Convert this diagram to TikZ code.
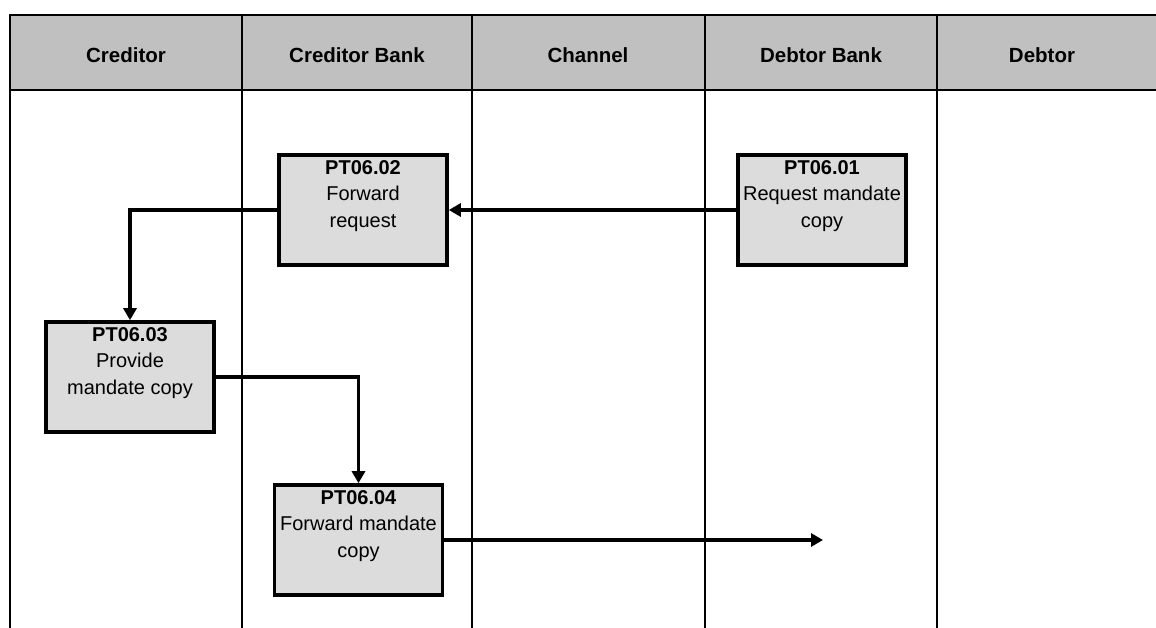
\documentclass[tikz,border=0pt]{standalone}
\usepackage{fontspec}
\setmainfont{Liberation Sans}
\usetikzlibrary{arrows.meta}
\definecolor{hdrgray}{HTML}{C0C0C0}
\definecolor{boxgray}{HTML}{DCDCDC}
\tikzset{
  lane/.style={line width=2pt, black},
  hdrtext/.style={font=\fontsize{20.5}{24}\selectfont\bfseries, anchor=center},
  stepbox/.style={draw=black, line width=3.6pt, fill=boxgray, minimum width=168pt, minimum height=110pt, inner sep=0pt},
  boxtext/.style={anchor=north, align=center, inner sep=0pt, font=\fontsize{20}{26.5}\selectfont},
  flow/.style={line width=3.2pt, -{Triangle[length=12pt,width=13pt]}}
}
\newcommand{\boxlabel}[3]{\node[boxtext] at ([yshift=-7pt]#1.north) {\textbf{#2}\\#3};}
\begin{document}
\begin{tikzpicture}[x=1pt,y=-1pt]
\useasboundingbox (0,0) rectangle (1156,628);
% header
\fill[hdrgray] (10,15) rectangle (1170,90);
\draw[line width=2.4pt] (1170,15) -- (10,15) -- (10,628);
\draw[line width=2.6pt] (10,90) -- (1170,90);
\foreach \x in {242,472,705,937} { \draw[lane] (\x,15) -- (\x,628); }
\node[hdrtext] (h1) at (126,55) {Creditor};
\node[hdrtext] (h2) at (357,55) {Creditor Bank};
\node[hdrtext] (h3) at (588,55) {Channel};
\node[hdrtext] (h4) at (821,55) {Debtor Bank};
\node[hdrtext] (h5) at (1042,55) {Debtor};
% boxes
\node[stepbox] (p01) at (822,210) {};
\node[stepbox] (p02) at (363,210) {};
\node[stepbox] (p03) at (130,377) {};
\node[stepbox] (p04) at (358.5,540) {};
\boxlabel{p01}{PT06.01}{Request mandate\\copy}
\boxlabel{p02}{PT06.02}{Forward\\request}
\boxlabel{p03}{PT06.03}{Provide\\mandate copy}
\boxlabel{p04}{PT06.04}{Forward mandate\\copy}
\coordinate (end04) at (823,540);
% connectors
\draw[flow] (p01.west) -- (p02.east);
\draw[flow] (p02.west) -| (p03.north);
\draw[flow] (p03.east) -| (p04.north);
\draw[flow] (p04.east) -- (end04);
\end{tikzpicture}
\end{document}
